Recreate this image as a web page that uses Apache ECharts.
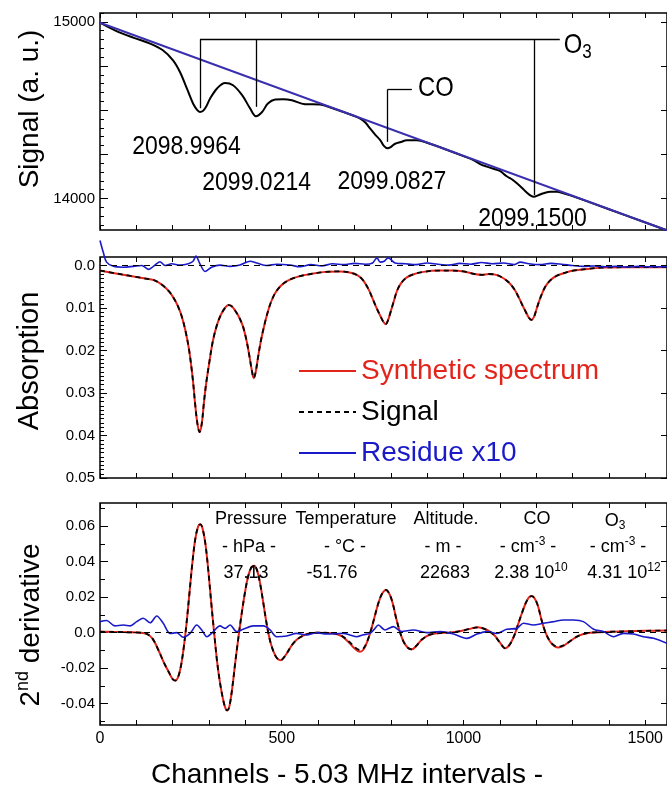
<!DOCTYPE html>
<html><head><meta charset="utf-8">
<script src="https://cdn.jsdelivr.net/npm/echarts@6/dist/echarts.min.js"></script>
<style>html,body{margin:0;padding:0;background:#fff}#c{width:667px;height:790px}</style>
</head><body><div id="c"></div>
<script>
// ---------------- DATA ----------------
// Top panel: measured signal and straight baseline (a. u.)
const baseCh = [0, 1560];
const baseline = [14995, 13820];
const topCh = [0, 41, 91, 138, 173, 201, 220, 239, 256, 267, 275, 283, 291, 303, 322, 344, 366, 391, 413, 429, 446, 462, 482, 504, 528, 564, 605, 640, 700, 716, 730, 743, 757, 771, 781, 791, 801, 812, 828, 844, 872, 900, 950, 1000, 1030, 1046, 1062, 1080, 1100, 1119, 1134, 1147, 1162, 1174, 1185, 1194, 1205, 1220, 1240, 1257, 1275, 1294, 1350, 1450, 1560];
const topSignal = [14995, 14952, 14911, 14877, 14839, 14782, 14716, 14623, 14538, 14502, 14490, 14495, 14516, 14566, 14623, 14654, 14641, 14585, 14510, 14466, 14490, 14538, 14560, 14562, 14556, 14534, 14532, 14511, 14467, 14452, 14430, 14397, 14362, 14330, 14298, 14284, 14293, 14310, 14320, 14330, 14330, 14316, 14279, 14240, 14215, 14195, 14182, 14170, 14156, 14126, 14108, 14086, 14058, 14034, 14016, 14010, 14018, 14030, 14038, 14038, 14030, 14018, 13977, 13902, 13820];

// Middle panel: absorption
const absCh = [0, 40, 80, 120, 150, 170, 190, 205, 215, 225, 235, 245, 255, 262, 268, 274, 280, 286, 292, 300, 310, 320, 330, 342, 354, 364, 374, 384, 394, 404, 412, 418, 423, 428, 435, 442, 450, 460, 470, 480, 490, 505, 525, 550, 580, 620, 660, 690, 710, 725, 740, 752, 762, 772, 780, 786, 792, 800, 808, 817, 828, 844, 865, 890, 930, 970, 1000, 1030, 1050, 1070, 1090, 1110, 1125, 1140, 1152, 1162, 1172, 1180, 1187, 1194, 1202, 1212, 1225, 1240, 1257, 1280, 1302, 1340, 1380, 1450, 1560];
const synthAbs = [0.0012, 0.0018, 0.0024, 0.0030, 0.0035, 0.0045, 0.0061, 0.0080, 0.0097, 0.0120, 0.0153, 0.0198, 0.0265, 0.0328, 0.0372, 0.0392, 0.0372, 0.0322, 0.0278, 0.0232, 0.0180, 0.0145, 0.0121, 0.0102, 0.0093, 0.0097, 0.0109, 0.0124, 0.0145, 0.0180, 0.0218, 0.0248, 0.0265, 0.0252, 0.0215, 0.0180, 0.0148, 0.0114, 0.0087, 0.0068, 0.0055, 0.0042, 0.0032, 0.0025, 0.0020, 0.0015, 0.0014, 0.0017, 0.0024, 0.0036, 0.0058, 0.0082, 0.0102, 0.0120, 0.0133, 0.0138, 0.0130, 0.0108, 0.0085, 0.0060, 0.0042, 0.0028, 0.0020, 0.0015, 0.0012, 0.0012, 0.0014, 0.0020, 0.0022, 0.0020, 0.0022, 0.0030, 0.0040, 0.0056, 0.0075, 0.0093, 0.0110, 0.0123, 0.0128, 0.0121, 0.0100, 0.0075, 0.0050, 0.0034, 0.0024, 0.0017, 0.0012, 0.0008, 0.0005, 0.0004, 0.0004];
const signalAbs = [0.0012, 0.0018, 0.0024, 0.0030, 0.0035, 0.0045, 0.0061, 0.0080, 0.0097, 0.0120, 0.0153, 0.0198, 0.0265, 0.0328, 0.0372, 0.0392, 0.0372, 0.0322, 0.0278, 0.0232, 0.0180, 0.0145, 0.0121, 0.0102, 0.0093, 0.0097, 0.0109, 0.0124, 0.0145, 0.0180, 0.0218, 0.0248, 0.0265, 0.0252, 0.0215, 0.0180, 0.0148, 0.0114, 0.0087, 0.0068, 0.0055, 0.0042, 0.0032, 0.0025, 0.0020, 0.0015, 0.0014, 0.0017, 0.0024, 0.0036, 0.0058, 0.0082, 0.0102, 0.0120, 0.0133, 0.0138, 0.0130, 0.0108, 0.0085, 0.0060, 0.0042, 0.0028, 0.0020, 0.0015, 0.0012, 0.0012, 0.0014, 0.0020, 0.0022, 0.0020, 0.0022, 0.0030, 0.0040, 0.0056, 0.0075, 0.0093, 0.0110, 0.0123, 0.0128, 0.0121, 0.0100, 0.0075, 0.0050, 0.0034, 0.0024, 0.0017, 0.0012, 0.0008, 0.0005, 0.0004, 0.0004];
const resAbsCh = [0, 9, 18, 37, 64, 92, 115, 133, 147, 165, 179, 197, 220, 243, 256, 264, 275, 289, 307, 330, 358, 385, 413, 431, 459, 486, 523, 550, 580, 610, 640, 670, 700, 730, 750, 762, 771, 782, 793, 812, 840, 870, 900, 930, 960, 990, 1020, 1050, 1080, 1110, 1140, 1156, 1180, 1210, 1240, 1270, 1300, 1330, 1360, 1390, 1420, 1450, 1480, 1510, 1560];
const resAbs = [-0.0059, -0.0031, -0.0008, 0.0002, 0.0004, 0.0002, 0.0000, 0.0009, 0.0002, -0.0009, 0.0000, -0.0004, -0.0001, -0.0004, -0.0010, -0.0022, -0.0004, 0.0014, 0.0004, -0.0001, 0.0002, -0.0001, -0.0010, -0.0006, 0.0000, -0.0003, -0.0001, 0.0003, -0.0002, 0.0001, -0.0004, -0.0002, -0.0005, -0.0003, -0.0006, -0.0018, -0.0008, -0.0010, -0.0018, -0.0006, -0.0004, -0.0002, -0.0006, -0.0003, -0.0001, -0.0005, -0.0003, -0.0007, -0.0004, -0.0006, -0.0002, -0.0008, -0.0004, -0.0002, -0.0005, -0.0003, 0.0000, 0.0002, 0.0001, 0.0003, 0.0002, 0.0004, 0.0002, 0.0003, 0.0003];

// Bottom panel: second derivative
const derCh = [0, 40, 80, 110, 130, 145, 160, 175, 190, 200, 207, 214, 222, 230, 238, 246, 254, 262, 270, 276, 282, 290, 298, 306, 314, 322, 330, 338, 345, 350, 356, 364, 372, 380, 390, 400, 408, 416, 424, 432, 440, 448, 456, 464, 472, 482, 490, 497, 505, 515, 528, 541, 556, 570, 600, 640, 665, 685, 700, 715, 725, 735, 745, 755, 765, 775, 787, 797, 806, 815, 825, 835, 847, 858, 870, 885, 905, 930, 960, 990, 1015, 1040, 1065, 1085, 1100, 1115, 1128, 1140, 1150, 1160, 1170, 1180, 1188, 1196, 1205, 1215, 1225, 1238, 1250, 1262, 1275, 1290, 1310, 1330, 1350, 1400, 1450, 1500, 1560];
const signalDer = [0.0005, 0.0004, 0.0002, 0.0, -0.0008, -0.0035, -0.0095, -0.0165, -0.0225, -0.0262, -0.0270, -0.0255, -0.0195, -0.0090, 0.0050, 0.0220, 0.0390, 0.0525, 0.0598, 0.0610, 0.0588, 0.0500, 0.0350, 0.0170, 0.0, -0.0160, -0.0280, -0.0370, -0.0425, -0.0438, -0.0415, -0.0310, -0.0170, -0.0040, 0.0110, 0.0240, 0.0320, 0.0365, 0.0377, 0.0352, 0.0282, 0.0185, 0.0080, -0.0010, -0.0075, -0.0128, -0.0150, -0.0155, -0.0142, -0.0113, -0.0070, -0.0040, -0.0020, -0.0008, 0.0, -0.0003, -0.0018, -0.0050, -0.0080, -0.0098, -0.0088, -0.0050, 0.0010, 0.0085, 0.0160, 0.0215, 0.0240, 0.0215, 0.0160, 0.0080, 0.0005, -0.0050, -0.0085, -0.0094, -0.0075, -0.0040, -0.0013, -0.0003, 0.0, 0.0008, 0.0020, 0.0030, 0.0015, -0.0015, -0.0055, -0.0088, -0.0065, -0.0015, 0.0045, 0.0105, 0.0160, 0.0198, 0.0206, 0.0192, 0.0150, 0.0070, 0.0005, -0.0048, -0.0072, -0.0079, -0.0072, -0.0052, -0.0025, -0.0008, 0.0, 0.0005, 0.0008, 0.0010, 0.0012];
const synthDer = [0.0005, 0.0004, 0.0002, 0.0, -0.0008, -0.0035, -0.0095, -0.0165, -0.0225, -0.0262, -0.0270, -0.0255, -0.0195, -0.0090, 0.0050, 0.0220, 0.0390, 0.0525, 0.0598, 0.0610, 0.0588, 0.0500, 0.0350, 0.0170, 0.0, -0.0160, -0.0280, -0.0370, -0.0425, -0.0438, -0.0415, -0.0310, -0.0170, -0.0040, 0.0110, 0.0240, 0.0320, 0.0365, 0.0377, 0.0352, 0.0282, 0.0185, 0.0080, -0.0010, -0.0075, -0.0128, -0.0150, -0.0155, -0.0142, -0.0113, -0.0070, -0.0040, -0.0020, -0.0008, 0.0, -0.0003, -0.0020, -0.0056, -0.0088, -0.0108, -0.0095, -0.0052, 0.0010, 0.0085, 0.0160, 0.0215, 0.0240, 0.0215, 0.0160, 0.0080, 0.0005, -0.0050, -0.0085, -0.0094, -0.0075, -0.0040, -0.0013, -0.0003, 0.0, 0.0008, 0.0020, 0.0030, 0.0015, -0.0015, -0.0055, -0.0088, -0.0065, -0.0015, 0.0045, 0.0105, 0.0160, 0.0198, 0.0206, 0.0192, 0.0150, 0.0070, 0.0005, -0.0050, -0.0076, -0.0084, -0.0075, -0.0053, -0.0025, -0.0008, 0.0, 0.0005, 0.0008, 0.0010, 0.0012];
const resDerCh = [0, 18, 41, 64, 83, 101, 119, 138, 156, 174, 193, 211, 229, 248, 266, 280, 294, 312, 330, 344, 358, 376, 394, 422, 450, 468, 486, 514, 541, 569, 596, 624, 651, 670, 690, 706, 725, 743, 755, 766, 784, 807, 830, 862, 899, 936, 973, 1009, 1037, 1064, 1092, 1119, 1147, 1165, 1192, 1220, 1248, 1275, 1303, 1330, 1358, 1385, 1413, 1440, 1468, 1495, 1523, 1560];
const resDer = [0.0062, 0.0068, 0.0038, 0.0043, 0.0038, 0.0062, 0.0081, 0.0056, 0.0094, 0.0053, -0.0005, 0.0000, -0.0026, -0.0004, 0.0043, 0.0015, -0.0023, 0.0006, 0.0038, 0.0024, 0.0043, 0.0006, 0.0019, 0.0038, 0.0038, 0.0015, -0.0023, -0.0019, -0.0004, -0.0013, 0.0000, -0.0008, -0.0006, -0.0004, -0.0015, -0.0023, -0.0012, -0.0004, 0.0020, 0.0043, 0.0015, 0.0034, 0.0006, 0.0015, 0.0000, 0.0006, -0.0008, -0.0032, -0.0008, 0.0006, -0.0004, 0.0019, 0.0024, 0.0053, 0.0043, 0.0053, 0.0062, 0.0071, 0.0071, 0.0062, 0.0019, 0.0006, -0.0023, -0.0004, -0.0008, -0.0023, -0.0032, -0.0060];

// Tick values and labels
const xTicks = [0, 100, 200, 300, 400, 500, 600, 700, 800, 900, 1000, 1100, 1200, 1300, 1400, 1500];
const xLabels = [0, 500, 1000, 1500];
const topMajor = [14000, 14250, 14500, 14750, 15000];
const topLabels = [14000, 15000];
const absMajor = [0, 0.01, 0.02, 0.03, 0.04, 0.05];
const derMajor = [-0.04, -0.02, 0, 0.02, 0.04, 0.06];
const derMinor = [-0.05, -0.03, -0.01, 0.01, 0.03, 0.05, 0.07];

// Annotations (line centres in channels, levels in a. u.)
const o3Centers = [275, 429, 1194];
const o3Ends = [14511, 14519, 14020];
const o3Top = 14899, o3RightCh = 1265;
const coCenter = 791, coTop = 14617, coEnd = 14321, coRightCh = 858;
const lineLabels = [
  {text: '2098.9964', ch: 238, v: 14293},
  {text: '2099.0214', ch: 431, v: 14089},
  {text: '2099.0827', ch: 803, v: 14095},
  {text: '2099.1500', ch: 1190, v: 13888}
];

// ---------------- CHART ----------------
const FONT = "'Liberation Sans', Arial, sans-serif";
const RED = '#e3241b', BLUE = '#1a1ac8', TOPBLUE = '#3a2fae';
const pairs = (xs, ys) => xs.map((x, i) => [x, ys[i]]);

const topMinor = []; for (let v = 13850; v <= 15050; v += 50) topMinor.push(v);
const absMinor = []; for (let i = 1; i < 50; i++) if (i % 10) absMinor.push(i / 1000);

function xAx(grid, pos, show) {
  return {
    type: 'value', gridIndex: grid, position: pos, min: 0, max: 1560,
    axisLine: {show: false, onZero: false}, splitLine: {show: false},
    axisTick: {show: true, inside: true, length: 5, customValues: xTicks, lineStyle: {color: '#000', width: 1}},
    axisLabel: {show: show, customValues: xLabels, color: '#000', fontSize: 16, fontFamily: FONT, margin: 6, formatter: v => String(v)}
  };
}
function yAx(grid, pos, min, max, inverse, ticks, len, labels, fmt) {
  return {
    type: 'value', gridIndex: grid, position: pos, min: min, max: max, inverse: inverse,
    axisLine: {show: false, onZero: false}, splitLine: {show: false},
    axisTick: {show: true, inside: true, length: len, customValues: ticks, lineStyle: {color: '#000', width: 1}},
    axisLabel: labels ? {show: true, customValues: labels, color: '#000', fontSize: 15, fontFamily: FONT, margin: 5, formatter: fmt} : {show: false}
  };
}
const fmtFrac = v => (Math.abs(v) < 1e-9 ? '0.0' : v.toFixed(2));

const gridBase = {left: 100, right: 0, show: true, borderColor: '#000', borderWidth: 1.5, backgroundColor: 'transparent'};
const zeroLine = {silent: true, symbol: 'none', label: {show: false}, lineStyle: {color: '#000', type: [6, 5], width: 1.2}, data: [{yAxis: 0}]};

const bracketData = o3Centers.map((c, i) => [{coord: [c, o3Top]}, {coord: [c, o3Ends[i]]}]);
bracketData.push([{coord: [o3Centers[0], o3Top]}, {coord: [o3RightCh, o3Top]}]);
bracketData.push([{coord: [coCenter, coTop]}, {coord: [coCenter, coEnd]}]);
bracketData.push([{coord: [coCenter, coTop]}, {coord: [coRightCh, coTop]}]);

const chart = echarts.init(document.getElementById('c'), null, {width: 667, height: 790});
chart.setOption({
  animation: false,
  backgroundColor: '#fff',
  textStyle: {fontFamily: FONT},
  grid: [
    Object.assign({top: 13, height: 217}, gridBase),
    Object.assign({top: 257, height: 221}, gridBase),
    Object.assign({top: 503, height: 222}, gridBase)
  ],
  xAxis: [xAx(0, 'bottom', false), xAx(0, 'top', false), xAx(1, 'bottom', false), xAx(1, 'top', false), xAx(2, 'bottom', true), xAx(2, 'top', false)],
  yAxis: [
    yAx(0, 'left', 13822, 15050, false, topMajor, 8, topLabels, v => String(v)),
    yAx(0, 'left', 13822, 15050, false, topMinor, 4, null),
    yAx(0, 'right', 13822, 15050, false, topMajor, 6, null),
    yAx(1, 'left', -0.002, 0.05, true, absMajor, 7, absMajor, fmtFrac),
    yAx(1, 'left', -0.002, 0.05, true, absMinor, 4, null),
    yAx(1, 'right', -0.002, 0.05, true, absMajor, 6, null),
    yAx(2, 'left', -0.052, 0.073, false, derMajor, 8, derMajor, fmtFrac),
    yAx(2, 'left', -0.052, 0.073, false, derMinor, 5, null),
    yAx(2, 'right', -0.052, 0.073, false, derMajor, 6, null)
  ],
  legend: {
    orient: 'vertical', left: 293, top: 352, itemWidth: 57, itemHeight: 2, itemGap: 13,
    itemStyle: {opacity: 0},
    selectedMode: false, textStyle: {fontSize: 28, fontFamily: FONT},
    data: [
      {name: 'Synthetic spectrum', textStyle: {color: RED}},
      {name: 'Signal', textStyle: {color: '#000'}},
      {name: 'Residue x10', textStyle: {color: BLUE}}
    ]
  },
  series: [
    {name: 'Baseline', type: 'line', xAxisIndex: 0, yAxisIndex: 0, data: pairs(baseCh, baseline), symbol: 'none',
     itemStyle: {color: TOPBLUE}, lineStyle: {color: TOPBLUE, width: 2}, z: 4},
    {name: 'Measured signal', type: 'line', xAxisIndex: 0, yAxisIndex: 0, data: pairs(topCh, topSignal), symbol: 'none',
     smooth: 0.35, itemStyle: {color: '#000'}, lineStyle: {color: '#000', width: 2}, z: 3,
     markLine: {silent: true, symbol: 'none', label: {show: false}, lineStyle: {color: '#000', type: 'solid', width: 1.3}, data: bracketData}},

    {name: 'Synthetic spectrum', type: 'line', xAxisIndex: 2, yAxisIndex: 3, data: pairs(absCh, synthAbs), symbol: 'none',
     smooth: 0.35, itemStyle: {color: RED}, lineStyle: {color: RED, width: 2}, z: 2},
    {name: 'Signal', type: 'line', xAxisIndex: 2, yAxisIndex: 3, data: pairs(absCh, signalAbs), symbol: 'none',
     smooth: 0.35, itemStyle: {color: '#000'}, lineStyle: {color: '#000', width: 1.8, type: [5, 4]}, z: 3,
     markLine: zeroLine},
    {name: 'Residue x10', type: 'line', xAxisIndex: 2, yAxisIndex: 3, data: pairs(resAbsCh, resAbs), symbol: 'none', clip: false,
     smooth: 0.3, itemStyle: {color: BLUE}, lineStyle: {color: BLUE, width: 1.6}, z: 4},

    {name: 'Synthetic spectrum', type: 'line', xAxisIndex: 4, yAxisIndex: 6, data: pairs(derCh, synthDer), symbol: 'none',
     smooth: 0.35, itemStyle: {color: RED}, lineStyle: {color: RED, width: 2}, z: 2},
    {name: 'Signal', type: 'line', xAxisIndex: 4, yAxisIndex: 6, data: pairs(derCh, signalDer), symbol: 'none',
     smooth: 0.35, itemStyle: {color: '#000'}, lineStyle: {color: '#000', width: 1.8, type: [5, 4]}, z: 3,
     markLine: zeroLine},
    {name: 'Residue x10', type: 'line', xAxisIndex: 4, yAxisIndex: 6, data: pairs(resDerCh, resDer), symbol: 'none',
     smooth: 0.3, itemStyle: {color: BLUE}, lineStyle: {color: BLUE, width: 1.6}, z: 4}
  ]
});

// ---------------- TEXT ANNOTATIONS ----------------
function T(x, y, text, font, extra) {
  return Object.assign({type: 'text', x: x, y: y, z: 100, silent: true,
    style: Object.assign({text: text, font: font, fill: '#000', align: 'center', verticalAlign: 'middle'}, (extra && extra.style) || {})},
    (extra && extra.el) || {});
}
const g = [];
lineLabels.forEach(l => {
  const p = chart.convertToPixel({xAxisIndex: 0, yAxisIndex: 0}, [l.ch, l.v]);
  g.push(T(p[0], p[1], l.text, '23px ' + FONT, {el: {scaleY: 1.15}}));
});
const pO3 = chart.convertToPixel({xAxisIndex: 0, yAxisIndex: 0}, [1276, 14867]);
g.push(T(pO3[0], pO3[1], '{a|O}{b|3}', '28px ' + FONT, {el: {scaleX: 0.85}, style: {align: 'left', rich: {
  a: {fontSize: 28, fontFamily: FONT, lineHeight: 34}, b: {fontSize: 20, fontFamily: FONT, lineHeight: 20, verticalAlign: 'bottom'}}}}));
const pCO = chart.convertToPixel({xAxisIndex: 0, yAxisIndex: 0}, [875, 14623]);
g.push(T(pCO[0], pCO[1], 'CO', '28px ' + FONT, {el: {scaleX: 0.85}, style: {align: 'left'}}));

// Axis titles
g.push(T(30, 109, 'Signal (a. u.)', '28px ' + FONT, {el: {rotation: Math.PI / 2}}));
g.push(T(30, 361, 'Absorption', '29px ' + FONT, {el: {rotation: Math.PI / 2}}));
g.push(T(31, 625, '{a|2}{s|nd}{a| derivative}', '28px ' + FONT, {el: {rotation: Math.PI / 2}, style: {rich: {
  a: {fontSize: 28, fontFamily: FONT, lineHeight: 34}, s: {fontSize: 18, fontFamily: FONT, lineHeight: 18, verticalAlign: 'top'}}}}));
g.push(T(347, 775, 'Channels - 5.03 MHz intervals -', '28px ' + FONT));

// Retrieval results box in the bottom panel
const rich18 = {
  t: {fontSize: 18, fontFamily: FONT, lineHeight: 22},
  sup: {fontSize: 12, fontFamily: FONT, lineHeight: 12, verticalAlign: 'top'},
  sub: {fontSize: 12, fontFamily: FONT, lineHeight: 12, verticalAlign: 'bottom'}
};
const header = [
  [251, 519, '{t|Pressure}'], [249, 547, '{t|- hPa -}'], [246, 573, '{t|37.13}'],
  [346, 519, '{t|Temperature}'], [345, 547, '{t|- °C -}'], [332, 573, '{t|-51.76}'],
  [446, 519, '{t|Altitude.}'], [443, 547, '{t|- m -}'], [445, 573, '{t|22683}'],
  [537, 519, '{t|CO}'], [528, 547, '{t|- cm}{sup|-3}{t| -}'], [531, 573, '{t|2.38 10}{sup|10}'],
  [615, 521, '{t|O}{sub|3}'], [618, 547, '{t|- cm}{sup|-3}{t| -}'], [624, 573, '{t|4.31 10}{sup|12}']
];
header.forEach(h => g.push(T(h[0], h[1], h[2], '18px ' + FONT, {style: {rich: rich18}})));

chart.setOption({graphic: g});
</script></body></html>
